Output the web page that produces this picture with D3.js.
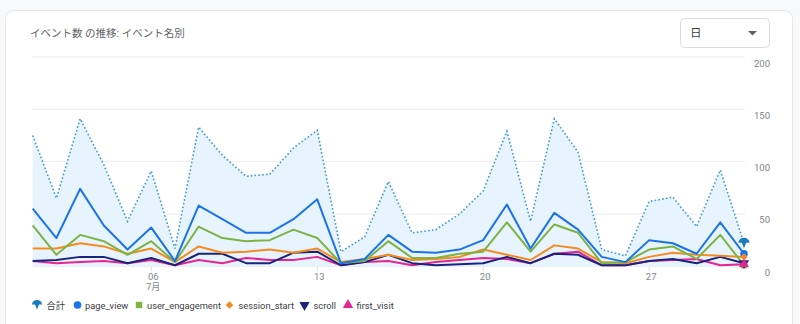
<!DOCTYPE html>
<html><head><meta charset="utf-8">
<script src="https://cdn.jsdelivr.net/npm/d3@7"></script>
<style>
html,body{margin:0;padding:0;background:#f8f9fa;}
svg{display:block;font-family:Roboto,"Noto Sans CJK JP",sans-serif;}
</style></head><body>
<svg id="c" width="800" height="324"></svg>
<script>
const days = d3.range(1, 32);
const total = [125,65,141,97,43,91,17,133,106,86,88,113,130,14,28,81,32,35,50,72,129,43,141,109,16,10,62,66,38,92,22];
const pageView = [55,27,74,39,16,37,5,58,45,32,32,45,64,3,7,30,14,13,16,25,59,17,51,35,9,4,25,22,12,42,12];
const userEngagement = [39,11,30,24,11,24,4,38,27,24,25,35,27,3,5,24,8,8,12,14,42,14,40,32,3,4,16,19,7,30,1];
const sessionStart = [17,17,22,19,12,17,4,19,13,14,16,13,17,4,7,11,6,7,9,16,11,6,20,17,4,3,9,13,11,10,9];
const scroll = [5,6,9,9,3,8,1,12,12,3,3,13,14,1,4,11,3,1,2,3,9,3,12,11,1,1,5,7,3,9,3];
const firstVisit = [5,3,4,5,3,6,1,6,3,8,6,6,9,1,4,5,1,4,6,8,7,3,12,14,1,1,5,6,7,1,2];
const yTicks = [0,50,100,150,200];
const xTickDays = [6,13,20,27];
const xTickLabels = ["06","13","20","27"];
const legendNames = ["合計","page_view","user_engagement","session_start","scroll","first_visit"];

const svg = d3.select("#c");
svg.append("rect").attr("x",5.5).attr("y",10.5).attr("width",787).attr("height",330)
  .attr("rx",8).attr("fill","#fff").attr("stroke","#e3e5e8");
svg.append("text").attr("x",30).attr("y",37).attr("font-size",10.5).attr("fill","#5f6368")
  .text("イベント数 の推移: イベント名別");
svg.append("rect").attr("x",680.5).attr("y",18.5).attr("width",89).attr("height",29).attr("rx",4)
  .attr("fill","#fff").attr("stroke","#dadce0");
svg.append("text").attr("x",690).attr("y",37).attr("font-size",11.5).attr("fill","#3c4043").text("日");
svg.append("path").attr("d","M748,31 L757,31 L752.5,35.5 Z").attr("fill","#5f6368");

const x = d3.scaleLinear().domain([1,31]).range([32.7,744]);
const y = d3.scaleLinear().domain([0,200]).range([266.3,57]);

svg.append("g").selectAll("line").data(yTicks).join("line")
  .attr("x1",32).attr("x2",745).attr("y1",d=>y(d)).attr("y2",d=>y(d))
  .attr("stroke","#ececec").attr("stroke-width",1);
svg.append("g").selectAll("text").data(yTicks).join("text")
  .attr("x",770).attr("y",d=>y(d)+9.5).attr("text-anchor","end").attr("font-size",9.5)
  .attr("fill","#80868b").text(d=>d);

const xg = svg.append("g");
xg.selectAll("line").data(xTickDays).join("line")
  .attr("x1",d=>x(d)).attr("x2",d=>x(d)).attr("y1",266).attr("y2",271)
  .attr("stroke","#dadce0");
xg.selectAll("text").data(xTickDays).join("text")
  .attr("x",d=>x(d)+2).attr("y",279.5).attr("text-anchor","middle").attr("font-size",9.5)
  .attr("fill","#80868b").text((d,i)=>xTickLabels[i]);
xg.append("text").attr("x",x(6)+2).attr("y",290).attr("text-anchor","middle").attr("font-size",9)
  .attr("fill","#80868b").text("7月");

const area = d3.area().x((d,i)=>x(days[i])).y0(y(0)).y1(d=>y(d));
svg.append("path").datum(total).attr("d",area).attr("fill","#e8f4fd");
const line = d3.line().x((d,i)=>x(days[i])).y(d=>y(d));

const series = [
  {name:"page_view", data:pageView, color:"#1a73e8", sym:"circle"},
  {name:"user_engagement", data:userEngagement, color:"#7cb342", sym:"square"},
  {name:"session_start", data:sessionStart, color:"#f58b1f", sym:"diamond"},
  {name:"scroll", data:scroll, color:"#1a237e", sym:"down"},
  {name:"first_visit", data:firstVisit, color:"#e52592", sym:"up"},
];
[...series].reverse().forEach(s=>{
  svg.append("path").datum(s.data).attr("d",line).attr("fill","none")
    .attr("stroke",s.color).attr("stroke-width",2).attr("stroke-linejoin","round");
});
svg.append("path").datum(total).attr("d",line).attr("fill","none")
  .attr("stroke","#3a9ad9").attr("stroke-width",1.6).attr("stroke-dasharray","1.6,2.2");

const totalColor = "#1b7db8";
function umbrella(cx, cy, s){
  return `M${cx-s},${cy+0.5} A${s},${s*0.9} 0 0 1 ${cx+s},${cy+0.5} L${cx+s*0.4},${cy+0.5} L${cx},${cy+s*1.1} L${cx-s*0.4},${cy+0.5} Z`;
}
function marker(g, s, cx, cy, size){
  let d, rot = 0;
  if (s.sym === "circle") d = d3.symbol(d3.symbolCircle).size(size)();
  else if (s.sym === "square") d = d3.symbol(d3.symbolSquare).size(size*0.9)();
  else if (s.sym === "diamond") { d = d3.symbol(d3.symbolSquare).size(size*0.6)(); rot = 45; }
  else if (s.sym === "down") { d = d3.symbol(d3.symbolTriangle).size(size)(); rot = 180; }
  else d = d3.symbol(d3.symbolTriangle).size(size)();
  g.append("path").attr("d", d).attr("transform",`translate(${cx},${cy}) rotate(${rot})`).attr("fill",s.color);
}
const last = days.length-1;
const em = svg.append("g");
series.forEach(s=>marker(em, s, x(days[last]), y(s.data[last]), 44));
em.append("path").attr("d",umbrella(x(days[last]), y(total[last])-1, 5.5)).attr("fill",totalColor);

const lg = svg.append("g").attr("font-size",9.3).attr("fill","#3c4043");
const legX = [37, 77.5, 139, 229.5, 304.5, 348];
const ly = 305;
lg.append("path").attr("d",umbrella(legX[0], ly-1, 5)).attr("fill",totalColor);
series.forEach((s,i)=>marker(lg, s, legX[i+1], ly, 46));
const textX = [46.5, 85, 147, 238.5, 313.5, 356.5];
lg.selectAll("text").data(legendNames).join("text")
  .attr("x",(d,i)=>textX[i]).attr("y",ly+3.5).text(d=>d);
</script>
</body></html>
